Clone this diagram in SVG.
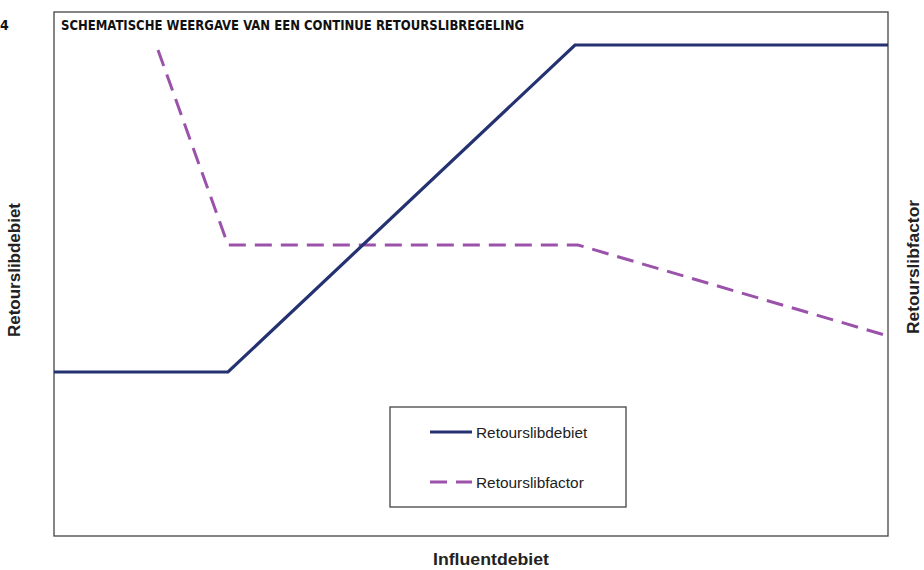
<svg xmlns="http://www.w3.org/2000/svg" width="924" height="570" viewBox="0 0 924 570">
<style>
.frame{fill:#fff;stroke:#444;stroke-width:1.3}
.solid{fill:none;stroke:#253271;stroke-width:3.2;stroke-linejoin:miter}
.dash{fill:none;stroke:#9b52aa;stroke-width:3;stroke-dasharray:17 9}
.ax{font-family:"Liberation Sans",Arial,sans-serif;font-weight:bold;font-size:17px;fill:#222}
.leg{font-family:"Liberation Sans",Arial,sans-serif;font-size:15.4px;fill:#222}
.title{font-family:"DejaVu Sans Condensed","DejaVu Sans",sans-serif;font-weight:bold;font-size:14px;fill:#111}
</style>
<rect width="924" height="570" fill="#fff"/>
<text class="title" x="0" y="30">4</text>
<rect class="frame" x="54" y="12" width="834" height="524"/>
<text class="title" x="61" y="30" textLength="463" lengthAdjust="spacingAndGlyphs">SCHEMATISCHE WEERGAVE VAN EEN CONTINUE RETOURSLIBREGELING</text>
<g id="connectors">
<polyline class="dash" points="158,50 228,245 578,245 888,336"/>
<polyline class="solid" points="54,372 228,372 575,45 888,45"/>
</g>
<g id="legend">
<rect class="frame" x="390" y="407" width="236" height="100"/>
<line x1="430" y1="432" x2="472" y2="432" class="solid"/>
<text class="leg" x="476" y="437.5">Retourslibdebiet</text>
<line x1="430" y1="482" x2="472" y2="482" class="dash" stroke-dasharray="15 13"/>
<text class="leg" x="476" y="487.5">Retourslibfactor</text>
</g>
<text class="ax" transform="translate(20,270) rotate(-90)" text-anchor="middle" textLength="134" lengthAdjust="spacingAndGlyphs">Retourslibdebiet</text>
<text class="ax" transform="translate(919,267) rotate(-90)" text-anchor="middle" textLength="134" lengthAdjust="spacingAndGlyphs">Retourslibfactor</text>
<text class="ax" x="491" y="565" text-anchor="middle" textLength="116" lengthAdjust="spacingAndGlyphs">Influentdebiet</text>
</svg>
